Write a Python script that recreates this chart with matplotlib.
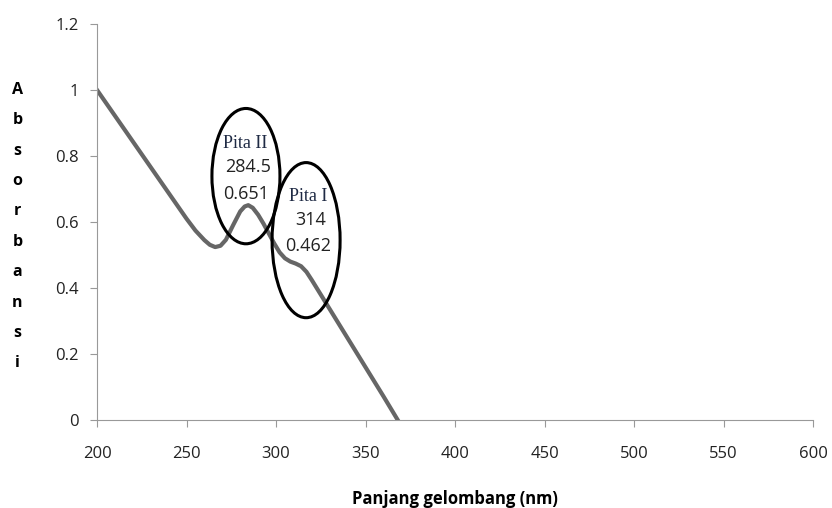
import matplotlib
matplotlib.use('Agg')
import matplotlib.pyplot as plt
from matplotlib.patches import Ellipse
import numpy as np

# spectrum
wavelength = [200, 210, 220, 230, 240, 250, 255, 260, 263, 266, 269, 272, 276, 280, 282.5, 284.5,
              287, 290, 293, 296, 299, 302, 305, 308, 311, 314, 317, 320,
              330, 340, 350, 360, 368]
absorb = [1.0, 0.922, 0.844, 0.766, 0.688, 0.61, 0.574, 0.545, 0.531, 0.524, 0.528, 0.546, 0.59, 0.632, 0.647, 0.651,
          0.643, 0.622, 0.595, 0.565, 0.535, 0.508, 0.49, 0.48, 0.474, 0.466, 0.449, 0.424,
          0.336, 0.248, 0.16, 0.072, 0.0]

bands = ['Pita II', 'Pita I']
band_nm = ['284.5', '314']
band_abs = ['0.651', '0.462']

fig = plt.figure(figsize=(8.32, 5.08), dpi=100)
ax = fig.add_axes([0.1166, 0.1732, 0.8606, 0.7796])

ax.plot(wavelength, absorb, color='#666666', lw=3, solid_joinstyle='round')

ax.set_xlim(200, 600)
ax.set_ylim(0, 1.2)
ax.set_xticks(np.arange(200, 601, 50))
ax.set_yticks([0, 0.2, 0.4, 0.6, 0.8, 1.0, 1.2])
ax.set_yticklabels(['0', '0.2', '0.4', '0.6', '0.8', '1', '1.2'])
for s in ['top', 'right']:
    ax.spines[s].set_visible(False)
for s in ['left', 'bottom']:
    ax.spines[s].set_color('#999999')
ax.tick_params(direction='out', length=5, color='#999999', labelsize=12, pad=8,
               labelcolor='#222222')
ax.tick_params(axis='x', pad=14)
for lab in ax.get_xticklabels() + ax.get_yticklabels():
    lab.set_family('Open Sans')

ax.set_xlabel('Panjang gelombang (nm)', fontsize=12, fontweight='bold',
              family='Open Sans', labelpad=20)
fig.text(0.021, 0.554, '\n'.join('Absorbansi'), fontsize=11.5, fontweight='bold',
         family='Open Sans', ha='center', va='center', linespacing=2.2)

# circled peak annotations
ax.add_patch(Ellipse((283.2, 0.739), 38, 0.41, fill=False, ec='black', lw=2.2, zorder=3))
ax.add_patch(Ellipse((316.8, 0.545), 38, 0.47, fill=False, ec='black', lw=2.2, zorder=3))

pos = [(283, 0.838), (318, 0.678)]
for i in range(2):
    x, y = pos[i]
    ax.text(x, y, bands[i], family='Liberation Serif', fontsize=13, color='#1f2a44',
            ha='center', va='center')
    ax.text(x + 1.5, y - 0.072, band_nm[i], family='Open Sans', fontsize=13,
            color='#222222', ha='center', va='center')
    ax.text(x, y - 0.152, band_abs[i], family='Open Sans', fontsize=13,
            color='#222222', ha='center', va='center')

fig.savefig('out.png', dpi=100)
